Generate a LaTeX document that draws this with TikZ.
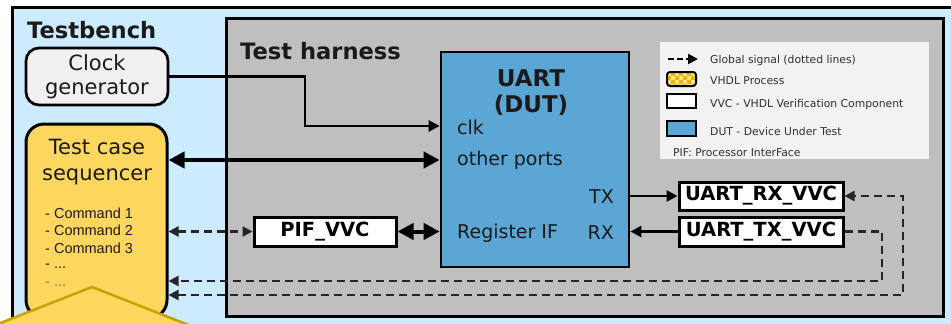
\documentclass[tikz,border=0pt]{standalone}
\usepackage{fontspec}
\setmainfont{DejaVu Sans}
\newfontfamily\arialf{Liberation Sans}
\usetikzlibrary{arrows.meta,calc}
\definecolor{tbblue}{HTML}{CCEBFF}
\definecolor{harngray}{HTML}{BFBFBF}
\definecolor{dutblue}{HTML}{5BA6D4}
\definecolor{seqyel}{HTML}{FFD75E}
\definecolor{clkgray}{HTML}{F0F0F0}
\definecolor{legbg}{HTML}{F2F2F2}
\definecolor{callbord}{HTML}{C9A200}
\definecolor{chkA}{HTML}{F2B200}
\definecolor{chkB}{HTML}{FFE690}
\definecolor{txtc}{HTML}{1A1A1A}
\definecolor{legtxt}{HTML}{303030}
\begin{document}
\begin{tikzpicture}[x=1pt,y=-1pt,
  fsz/.style={font=\fontsize{#1}{#1}\selectfont},
  bfsz/.style={font=\bfseries\fontsize{#1}{#1}\selectfont},
  sig/.style={line width=2.4pt,-{Triangle[length=11pt,width=11pt]}},
  bigarr/.style={line width=4pt,{Triangle[length=16pt,width=16pt]}-{Triangle[length=16pt,width=16pt]}},
  glob/.style={line width=2.3pt,dash pattern=on 8pt off 5pt,draw=black!85},
  gtip/.style={-{Triangle[length=10pt,width=10pt]}},
  gtipb/.style={{Triangle[length=10pt,width=10pt]}-{Triangle[length=10pt,width=10pt]}},
  vvc/.style={draw,line width=3pt,fill=white,inner sep=0pt,bfsz=19.5},
  porttxt/.style={fsz=19,text=txtc,inner sep=0pt},
  cmdtxt/.style={font=\arialf\fontsize{14.5}{14.5}\selectfont,text=txtc,inner sep=0pt,anchor=west},
  legtext/.style={fsz=10.8,text=legtxt,inner sep=0pt,anchor=west},
  legbox/.style={draw,line width=2pt,minimum width=29,minimum height=14,inner sep=0pt},
]
\clip (0,0) rectangle (951,324);
\fill[white] (0,0) rectangle (951,324);
% Testbench
\draw[line width=3pt,fill=tbblue] (12,7) rectangle (975,345);
\node[bfsz=22.6,anchor=west,inner sep=0pt,text=txtc] (tbl) at (27,30) {Testbench};
% Test harness
\draw[line width=3pt,fill=harngray] (226,18) rectangle (943,316);
\node[bfsz=22.6,anchor=west,inner sep=0pt,text=txtc] (thl) at (240,51) {Test harness};
% Legend
\node[fill=legbg,minimum width=269,minimum height=117,inner sep=0pt,anchor=north west] (leg) at (660,42) {};
\coordinate (la) at (668,59);
\coordinate (lb) at (698,59);
\draw[line width=2.2pt,dash pattern=on 6pt off 3pt,-{Triangle[length=10pt,width=10pt]}] (la) -- (lb);
\node[legtext] (l1) at (710,61) {Global signal (dotted lines)};
\begin{scope}
  \clip[rounded corners=3pt] (667,72) rectangle (696,86);
  \fill[chkA] (667,72) rectangle (696,86);
  \foreach \i in {0,...,7}{
    \foreach \j in {0,...,3}{
      \pgfmathparse{int(mod(\i+\j,2))}
      \ifnum\pgfmathresult=0
        \fill[chkB] (667+\i*4,72+\j*4) rectangle ++(4,4);
      \fi
    }
  }
\end{scope}
\node[legbox,rounded corners=3pt,minimum height=14] (lp) at (681.5,79) {};
\node[legtext] (l2) at (710,81) {VHDL Process};
\node[legbox,fill=white] (lw) at (681.5,101) {};
\node[legtext] (l3) at (710,105) {VVC - VHDL Verification Component};
\node[legbox,fill=dutblue,minimum height=15] (lbl) at (681.5,128.5) {};
\node[legtext] (l4) at (710,131) {DUT - Device Under Test};
\node[legtext] (l5) at (673,153) {PIF: Processor InterFace};
% Clock generator
\node[draw,line width=2.7pt,rounded corners=13pt,fill=clkgray,minimum width=142,minimum height=57,inner sep=0pt,align=center,font=\fontsize{21}{25}\selectfont,text=txtc] (clk) at (97,76.5) {Clock\\[-1pt]generator};
% Sequencer
\node[draw,line width=3pt,rounded corners=18pt,fill=seqyel,minimum width=141,minimum height=194,inner sep=0pt] (seq) at (96.5,221) {};
\node[align=center,font=\fontsize{21}{26}\selectfont,text=txtc,inner sep=0pt] (seqt) at (97,162) {Test case\\sequencer};
\node[cmdtxt] (c1) at (45,213) {- Command 1};
\node[cmdtxt] (c2) at (45,230) {- Command 2};
\node[cmdtxt] (c3) at (45,248) {- Command 3};
\node[cmdtxt] (c4) at (45,266) {- ...};
\node[cmdtxt,text=black!55] (c5) at (45,284) {- ...};
% DUT
\node[draw,line width=2.7pt,fill=dutblue,minimum width=188,minimum height=215,inner sep=0pt] (dut) at (535,159.5) {};
\node[align=center,font=\bfseries\fontsize{23}{26}\selectfont,text=txtc,inner sep=0pt] (dutt) at (531,93) {UART\\(DUT)};
\node[porttxt,anchor=west] (pclk) at (457,127) {clk};
\node[porttxt,anchor=west] (pop) at (457,160) {other ports};
\node[porttxt,anchor=west] (preg) at (457,233) {Register IF};
\node[porttxt,anchor=east] (ptx) at (614,197) {TX};
\node[porttxt,anchor=east] (prx) at (614,233) {RX};
% VVCs
\node[vvc,minimum width=142,minimum height=29] (pif) at (325,231.5) {PIF\_VVC};
\node[vvc,minimum width=164,minimum height=28] (rx) at (761,196) {UART\_RX\_VVC};
\node[vvc,minimum width=164,minimum height=29] (tx) at (761,231.5) {UART\_TX\_VVC};
% helper rows
\coordinate (yclk) at (0,126);
\coordinate (yop) at (0,160);
\coordinate (yg1) at (0,281);
\coordinate (yg2) at (0,295);
\coordinate (k1) at (305,76.5);
\coordinate (g1) at (882,231.5);
\coordinate (g2) at (903,295);
% Connectors
\draw[sig] (clk.east) -- (k1) |- (dut.west |- yclk);
\draw[bigarr] (seq.east |- yop) -- (dut.west |- yop);
\draw[bigarr] (pif.east) -- (dut.west |- pif.east);
\draw[glob,gtipb] (seq.east |- pif.west) -- (pif.west);
\draw[sig] (dut.east |- rx.west) -- (rx.west);
\draw[sig] (tx.west) -- (dut.east |- tx.west);
\draw[glob,gtip] (tx.east) -- (g1) |- (seq.east |- yg1);
\draw[glob,gtipb] (seq.east |- yg2) -- (g2) |- (rx.east);
% Callout
\draw[line width=2.5pt,draw=callbord,fill=seqyel] (-30,335) -- (92,287) -- (214,335);
\end{tikzpicture}
\end{document}
